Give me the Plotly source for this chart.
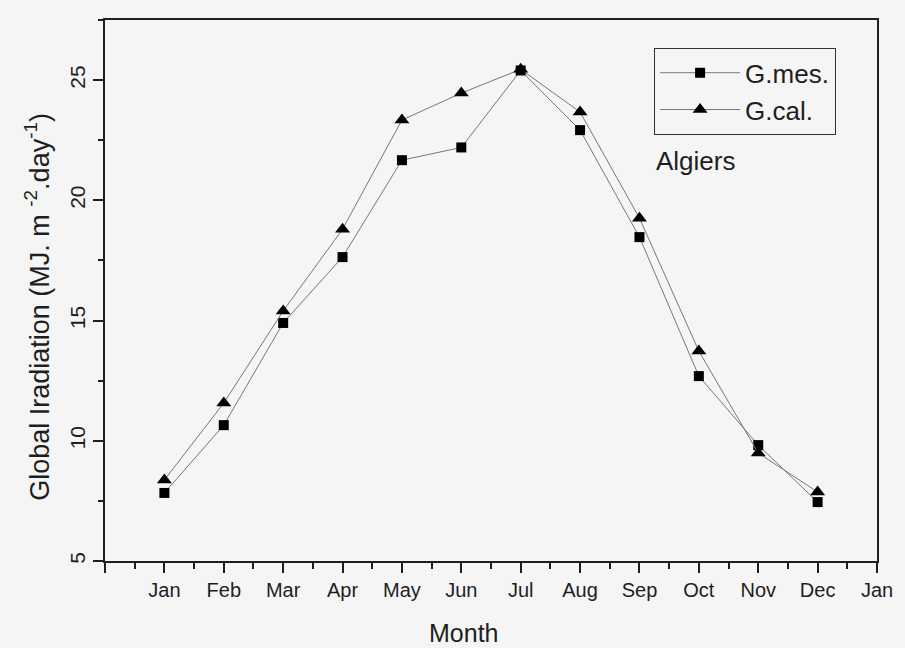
import plotly.graph_objects as go

# Monthly global irradiation, Algiers (MJ m-2 day-1)
months = ["Jan", "Feb", "Mar", "Apr", "May", "Jun",
          "Jul", "Aug", "Sep", "Oct", "Nov", "Dec"]
month_pos = list(range(1, 13))
g_mes = [7.83, 10.65, 14.9, 17.64, 21.67, 22.2, 25.4, 22.92, 18.47, 12.69, 9.82, 7.45]
g_cal = [8.37, 11.57, 15.4, 18.8, 23.34, 24.46, 25.45, 23.67, 19.26, 13.73, 9.49, 7.87]

x_tickvals = list(range(0, 14))
x_ticktext = [""] + months + ["Jan"]
y_tickvals = [5, 10, 15, 20, 25]

FONT = "Liberation Sans, Arial, sans-serif"
LINE = "#777777"
INK = "#1e1e1e"

fig = go.Figure()
fig.add_trace(go.Scatter(
    x=month_pos, y=g_mes, name="G.mes.", mode="lines+markers",
    line=dict(color=LINE, width=1),
    marker=dict(symbol="square", size=10, color="black"),
))
fig.add_trace(go.Scatter(
    x=month_pos, y=g_cal, name="G.cal.", mode="lines+markers",
    line=dict(color=LINE, width=1),
    marker=dict(symbol="triangle-up", size=13, color="black"),
))

axis_common = dict(
    showline=True, linecolor=INK, linewidth=1.5, mirror=True,
    showgrid=False, zeroline=False,
    ticks="outside", ticklen=10, tickwidth=1.5, tickcolor=INK,
)

fig.update_xaxes(
    range=[0, 13], tickmode="array", tickvals=x_tickvals, ticktext=x_ticktext,
    tickfont=dict(family=FONT, size=20, color=INK),
    minor=dict(tickmode="linear", tick0=0.5, dtick=1, ticks="outside",
               ticklen=6, tickwidth=1.5, tickcolor=INK),
    **axis_common,
)
fig.update_yaxes(
    range=[5, 27.5], tickmode="array", tickvals=y_tickvals, tickangle=-90,
    tickfont=dict(family=FONT, size=21, color=INK),
    minor=dict(tickmode="linear", tick0=7.5, dtick=5, ticks="outside",
               ticklen=5, tickwidth=1.5, tickcolor=INK),
    **axis_common,
)

fig.update_layout(
    width=905, height=648,
    margin=dict(l=105, r=22, t=20, b=87),
    paper_bgcolor="#f5f5f5", plot_bgcolor="#f5f5f5",
    font=dict(family=FONT, color=INK),
    showlegend=True,
    legend=dict(
        x=0.711, y=0.948, xanchor="left", yanchor="top",
        bgcolor="rgba(0,0,0,0)", bordercolor="#333", borderwidth=1.2,
        itemwidth=80,
        font=dict(family=FONT, size=26, color=INK),
    ),
    annotations=[
        dict(text="Algiers", x=0.711, y=0.74, xref="paper", yref="paper",
             xanchor="left", yanchor="middle", showarrow=False,
             font=dict(family=FONT, size=26, color=INK)),
        dict(text="Month", x=0.465, y=-0.133, xref="paper", yref="paper",
             xanchor="center", yanchor="middle", showarrow=False,
             font=dict(family=FONT, size=25, color=INK)),
        dict(text="Global Iradiation (MJ. m <sup>-2</sup>.day<sup>-1</sup>)",
             x=-0.088, y=0.47, xref="paper", yref="paper", textangle=-90,
             xanchor="center", yanchor="middle", showarrow=False,
             font=dict(family=FONT, size=27, color=INK)),
    ],
)

fig.write_html("out.html")
